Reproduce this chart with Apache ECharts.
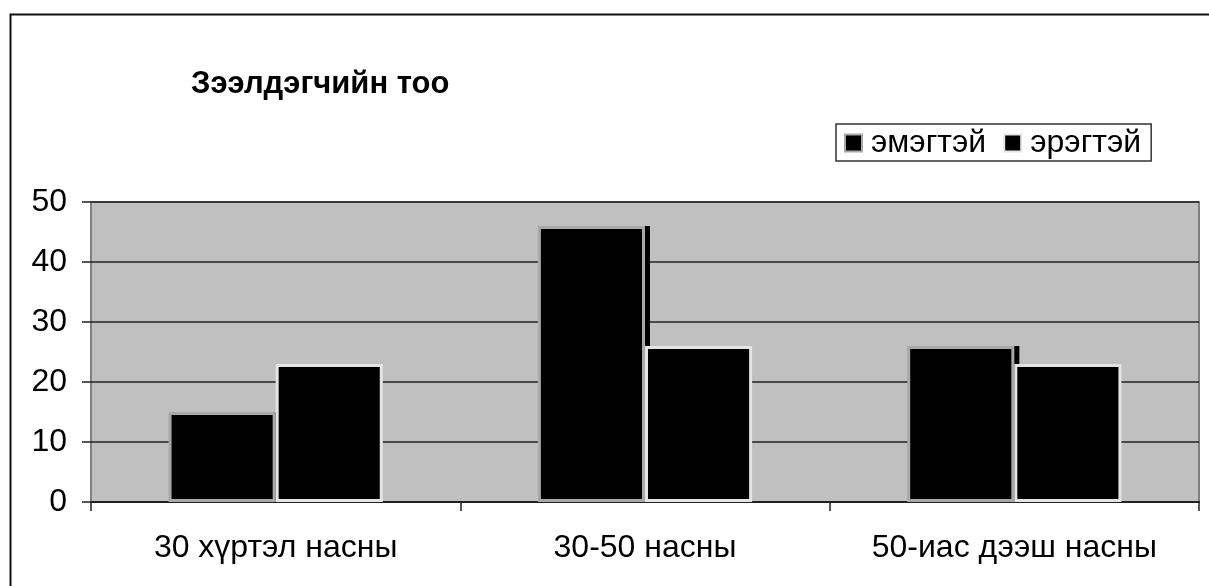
<!DOCTYPE html>
<html>
<head>
<meta charset="utf-8">
<script src="https://cdn.jsdelivr.net/npm/echarts@6/dist/echarts.min.js"></script>
<style>
html,body{margin:0;padding:0;background:#fff;}
#c{width:1209px;height:586px;}
</style>
</head>
<body>
<div id="c"></div>
<script>
var categories = ['30 хүртэл насны', '30-50 насны', '50-иас дээш насны'];
var female = [15, 46, 26];
var male = [23, 26, 23];
var seriesNames = ['эмэгтэй', 'эрэгтэй'];
var titleText = 'Зээлдэгчийн тоо';

var chart = echarts.init(document.getElementById('c'), null, {renderer: 'canvas'});
var font = '"Liberation Sans", Arial, sans-serif';
chart.setOption({
  animation: false,
  backgroundColor: '#fff',
  graphic: [{
    type: 'rect', left: 8, top: 12, z: 100, silent: true,
    shape: {width: 1230, height: 600},
    style: {fill: 'none', stroke: '#111', lineWidth: 2}
  }],
  title: {
    text: titleText, left: 191, top: 69, padding: 0,
    textStyle: {fontFamily: font, fontSize: 31, fontWeight: 'bold', color: '#000'}
  },
  legend: {
    data: seriesNames, left: 836, top: 124, padding: [3, 10, 2, 8],
    borderColor: '#333', borderWidth: 1.5, backgroundColor: '#fff',
    icon: 'rect', itemWidth: 17, itemHeight: 17, itemGap: 17,
    textStyle: {fontFamily: font, fontSize: 32, color: '#000', padding: [0, 0, 0, 4]}
  },
  grid: {
    left: 91, top: 202, right: 10, bottom: 84, show: true,
    backgroundColor: '#c0c0c0', borderColor: '#808080', borderWidth: 2
  },
  xAxis: {
    type: 'category', data: categories,
    axisLine: {lineStyle: {color: '#222', width: 2}},
    axisTick: {show: true, interval: 0, length: 9, lineStyle: {color: '#222', width: 1.5}},
    axisLabel: {interval: 0, hideOverlap: false, fontFamily: font, fontSize: 32, color: '#000', margin: 30}
  },
  yAxis: {
    type: 'value', min: 0, max: 50, interval: 10,
    axisLine: {show: false},
    axisTick: {show: true, length: 9, lineStyle: {color: '#222', width: 1.5}},
    axisLabel: {fontFamily: font, fontSize: 32, color: '#000', margin: 24},
    splitLine: {lineStyle: {color: '#222', width: 1.5}}
  },
  series: [{
    name: seriesNames[0], type: 'bar', data: female,
    barGap: '0%', barCategoryGap: '42%',
    itemStyle: {color: '#000', borderColor: '#a8a8a8', borderWidth: 3,
      shadowColor: '#000', shadowOffsetX: 5, shadowOffsetY: 0, shadowBlur: 0}
  }, {
    name: seriesNames[1], type: 'bar', data: male,
    itemStyle: {color: '#000', borderColor: '#e4e4e4', borderWidth: 3}
  }]
});
</script>
</body>
</html>
